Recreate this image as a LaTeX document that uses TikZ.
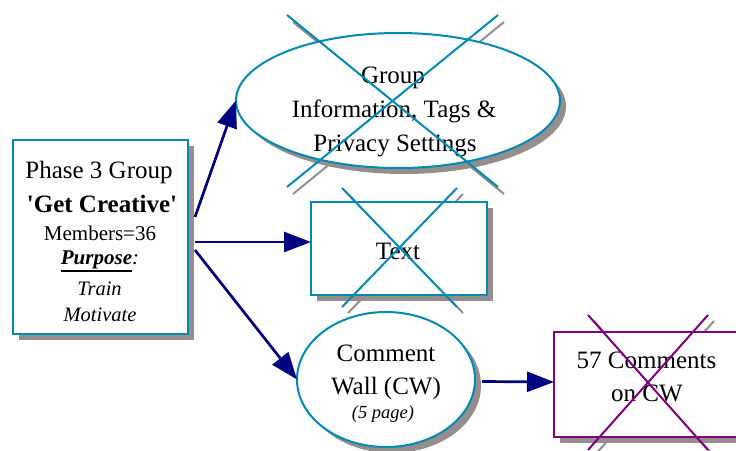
\documentclass[tikz,border=0pt]{standalone}
\usepackage{fontspec}
\newfontfamily\tnr{Liberation Serif}
\usetikzlibrary{arrows.meta,shadows,shapes.geometric}
\definecolor{edgeblue}{RGB}{0,138,180}
\definecolor{boxpurple}{RGB}{128,0,128}
\definecolor{shadowgray}{RGB}{150,141,141}
\definecolor{arrownavy}{RGB}{0,0,128}
% heavy underline kept on the word's own baseline
\newcommand\heavyul[1]{\vtop{\hbox{#1}\kern1.6pt\hrule height 1.8pt}}
\begin{document}
\begin{tikzpicture}[x=1pt,y=-1pt,
  shade/.style={drop shadow={shadow xshift=6pt,shadow yshift=-6pt,fill=shadowgray,opacity=1}},
  shapebase/.style={draw=edgeblue,line width=2pt,fill=white,inner sep=0pt,outer sep=0pt,shade},
  rbox/.style={shapebase,rectangle},
  obox/.style={shapebase,ellipse},
  xline/.style={line width=2pt},
  xshade/.style={line width=2pt,draw=shadowgray},
  arr/.style={draw=arrownavy,line width=2.7pt,-{Triangle[length=27pt,width=20pt]}},
  lbl/.style={anchor=base,inner sep=0pt,outer sep=0pt,font=\tnr},
  big/.style={lbl,font=\tnr\fontsize{25}{30}\selectfont},
  mid/.style={lbl,font=\tnr\fontsize{21}{25}\selectfont},
  sml/.style={lbl,font=\tnr\fontsize{20.5}{24}\selectfont\itshape},
  tiny/.style={lbl,font=\tnr\fontsize{18.5}{22}\selectfont\itshape}]
\clip (0,0) rectangle (736,450);
\fill[white] (0,0) rectangle (736,450);

% shadows of the crossing lines
\begin{scope}[shift={(6,7)}]
  \draw[xshade] (287,15) -- (498,187) (498,15) -- (287,187);
\end{scope}
\begin{scope}[shift={(6,6)}]
  \draw[xshade] (342,188) -- (457,307) (457,188) -- (342,307);
  \draw[xshade] (588,315) -- (708,450) (708,315) -- (588,450);
\end{scope}

% shapes
\node[rbox,minimum width=175pt,minimum height=194pt] (phase) at (100.5,237) {};
\node[obox,minimum width=324pt,minimum height=135pt] (grp) at (398,100.5) {};
\node[rbox,minimum width=176pt,minimum height=93pt] (textbox) at (399,248.5) {};
\node[obox,minimum width=178pt,minimum height=135pt] (cwall) at (386,379.5) {};
\node[rbox,draw=boxpurple,minimum width=186pt,minimum height=105pt] (cbox) at (647,384.5) {};

% labels
\node[big] (p1) at (99,178) {Phase 3 Group};
\node[big] (p2) at (102,212) {\textbf{'Get Creative'}};
\node[mid] (p3) at (100,240) {Members=36};
\node[mid] (p4) at (100,264) {\heavyul{\textbf{\textit{Purpose}}}\textit{:}};
\node[sml] (p5) at (99.5,295) {Train};
\node[sml] (p6) at (100,321) {Motivate};

\node[big] (g1) at (393,83) {Group};
\node[big] (g2) at (394,117) {Information, Tags \&};
\node[big] (g3) at (395,151) {Privacy Settings};

\node[big] (t1) at (398,259) {Text};

\node[big] (c1) at (386,361) {Comment};
\node[big] (c2) at (386,394) {Wall (CW)};
\node[tiny] (c3) at (383,418) {(5 page)};

\node[big] (k1) at (646.5,368) {57 Comments};
\node[big] (k2) at (647,401) {on CW};

% crossing lines
\draw[xline,edgeblue] (287,15) -- (498,187) (498,15) -- (287,187);
\draw[xline,edgeblue] (342,188) -- (457,307) (457,188) -- (342,307);
\draw[xline,boxpurple] (588,315) -- (708,450) (708,315) -- (588,450);

% connectors
\draw[arr] ([shift={(7,-20)}]phase.east) -- (grp.west);
\draw[arr] ([shift={(7,5)}]phase.east) -- ([shift={(0,-6.5)}]textbox.west);
\draw[arr] ([shift={(7,13)}]phase.east) -- (cwall.west);
\draw[arr] ([shift={(7,2)}]cwall.east) -- ([shift={(0,-2.5)}]cbox.west);
\end{tikzpicture}
\end{document}
